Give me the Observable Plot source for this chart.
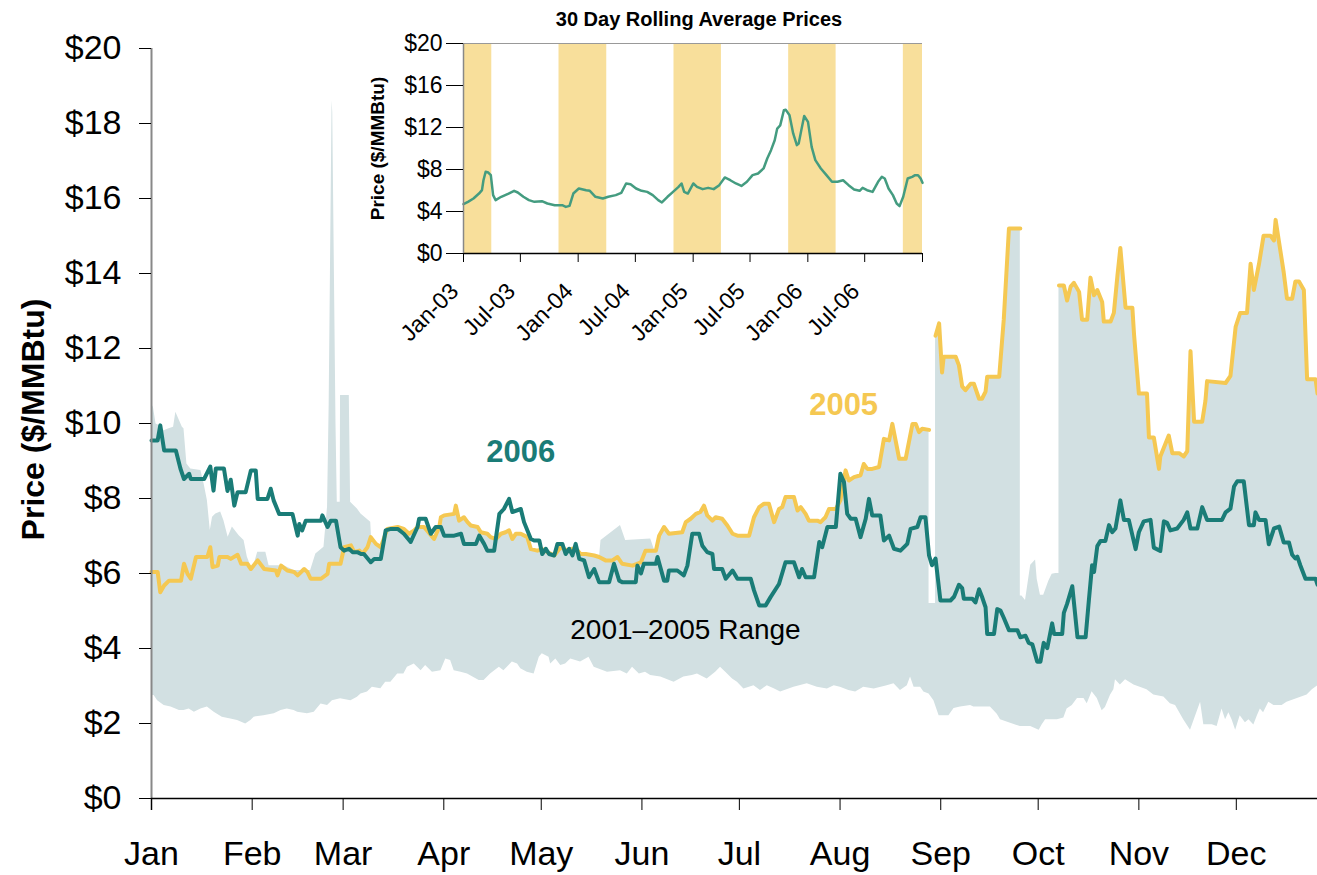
<!DOCTYPE html>
<html><head><meta charset="utf-8">
<script src="https://cdn.jsdelivr.net/npm/d3@7"></script>
<script src="https://cdn.jsdelivr.net/npm/@observablehq/plot@0.6"></script>
<style>
body{margin:0;background:#fff;}
#wrap{position:relative;width:1317px;height:875px;overflow:hidden;font-family:"Liberation Sans",Arial,sans-serif;}
#main{position:absolute;left:0;top:0;}
#inset{position:absolute;left:360px;top:0;}
</style></head><body>
<div id="wrap"><div id="main"></div><div id="inset"></div></div>
<script>
// ---------- main chart data (day of year, $/MMBtu) ----------
const monthLabels = ["Jan","Feb","Mar","Apr","May","Jun","Jul","Aug","Sep","Oct","Nov","Dec"];
const yTickValues = [0,2,4,6,8,10,12,14,16,18,20];

const days2006 = [0,1.9,2.7,3.9,7.5,8.9,10.0,11.6,12.1,16.2,18.1,19.1,19.8,22.3,23.4,24.4,25.5,26.5,29.0,30.6,32.1,32.7,35.7,36.7,37.6,39.3,43.4,45.0,45.5,46.4,47.5,52.2,52.6,54.2,55.2,56.8,58.2,59.3,60.8,61.9,63.4,64.5,65.4,67.5,68.6,70.6,72.1,73.7,75.8,77.7,79.8,81.9,82.4,84.4,86.0,87.5,89.1,90.1,93.2,95.3,96.2,99.9,100.9,102.4,103.4,105.5,107.1,108.5,110.1,111.1,113.7,114.7,116.8,117.8,119.4,120.3,121.4,122.4,124.0,125.0,126.5,127.5,128.6,129.6,130.6,131.7,133.2,134.7,136.3,137.8,140.9,142.4,144.0,144.9,149.1,149.6,150.7,151.6,155.3,155.8,157.8,158.8,159.3,161.9,163.9,165.0,166.5,168.6,169.6,171.1,172.7,173.2,175.7,176.8,178.9,180.4,184.5,185.5,187.1,189.1,190.6,193.2,195.2,197.8,199.4,200.3,201.4,204.0,205.6,206.5,208.1,210.7,212.1,213.2,214.2,215.3,216.8,218.3,219.9,220.9,221.9,224.4,225.5,227.1,228.6,230.6,232.7,233.7,235.8,236.8,238.3,239.4,240.3,241.4,242.9,246.0,247.1,248.6,249.6,250.1,252.7,253.7,254.8,255.7,256.8,257.3,259.4,260.4,261.4,262.4,264.0,266.6,267.5,269.1,270.1,271.2,272.7,273.7,274.7,275.8,277.3,277.9,280.4,280.9,281.9,283.5,285.1,287.6,288.6,289.6,290.2,291.2,292.2,293.7,294.8,295.8,296.8,298.3,299.4,300.9,303.0,304.0,305.5,307.6,308.6,310.6,311.7,312.7,313.7,315.8,317.8,318.9,319.9,322.0,323.5,325.0,329.6,330.7,332.2,333.3,334.3,336.3,337.9,339.4,339.9,341.0,343.0,344.0,345.6,347.2,348.6,350.2,351.2,352.2,352.8,353.7,355.3,358.4,359.0];
const price2006 = [9.55,9.55,9.95,9.28,9.28,8.8,8.52,8.66,8.52,8.52,8.85,8.21,8.8,8.8,8.2,8.5,7.81,8.17,8.17,8.75,8.75,7.99,7.99,8.26,7.95,7.59,7.59,7.01,7.32,7.15,7.41,7.41,7.55,7.24,7.41,7.41,6.70,6.61,6.66,6.57,6.57,6.52,6.52,6.30,6.39,6.39,7.15,7.19,7.19,7.06,6.84,7.24,7.46,7.46,7.06,7.24,7.24,7.01,7.01,7.06,6.79,6.79,7.01,6.79,6.61,6.61,7.59,7.72,7.99,7.64,7.72,7.37,6.92,6.88,6.88,6.52,6.66,6.52,6.48,6.79,6.79,6.52,6.66,6.48,6.79,6.39,6.35,5.90,6.12,5.77,5.77,6.26,5.81,5.77,5.77,6.21,6.0,6.26,6.26,6.44,5.81,5.81,6.08,6.08,5.95,6.21,7.06,7.06,6.74,6.57,6.52,6.12,6.12,5.86,6.08,5.86,5.86,5.55,5.15,5.15,5.37,5.72,6.30,6.30,5.90,6.12,5.90,5.90,6.84,6.70,7.24,7.24,8.66,8.44,7.59,7.46,7.46,6.97,7.46,7.99,7.55,7.55,6.88,7.01,6.66,6.61,6.79,7.19,7.24,7.50,7.50,6.48,6.22,6.40,5.28,5.28,5.38,5.70,5.61,5.33,5.33,5.23,5.58,5.38,5.10,4.39,4.39,5.05,5.01,4.82,4.49,4.49,4.30,4.34,4.15,4.11,3.65,3.65,4.15,4.01,4.67,4.39,4.39,4.95,5.19,5.66,4.30,4.30,5.28,6.22,6.04,6.73,6.87,6.87,7.29,7.10,7.20,7.95,7.43,7.43,6.65,7.10,7.39,7.43,6.69,6.60,7.39,7.35,7.15,7.20,7.43,7.63,7.20,7.20,7.77,7.43,7.43,7.63,7.73,8.32,8.46,8.46,7.29,7.29,7.63,7.43,7.43,6.78,7.20,7.25,6.83,6.83,6.50,6.40,6.45,6.22,5.86,5.86,5.70];

const days2005 = [0,1.9,2.7,3.9,5.4,9.1,10.0,11.1,12.1,13.7,17.2,18.1,18.8,20.4,20.9,23.4,24.4,26.5,27.6,29.5,30.6,32.7,34.7,38.3,38.8,39.9,41.8,43.9,45.0,47.0,48.0,49.0,52.2,54.2,54.7,58.2,59.3,61.4,62.4,64.0,64.9,66.5,67.5,69.1,70.6,72.6,75.8,77.7,79.3,80.9,81.9,83.9,87.0,88.6,89.1,90.1,93.2,93.7,94.7,96.2,97.3,98.3,100.4,101.4,103.4,104.4,106.0,107.6,109.0,110.1,111.1,112.2,113.7,115.7,116.8,118.8,120.3,121.9,124.0,126.0,128.0,129.6,131.2,132.1,133.7,136.3,137.8,139.8,141.9,143.5,144.9,148.1,150.7,152.1,155.3,156.3,157.8,159.3,163.4,164.5,166.0,167.6,169.0,170.1,171.1,172.7,173.7,175.7,177.3,178.9,180.4,184.0,185.5,187.1,188.6,190.1,191.7,193.2,194.2,195.2,197.8,198.9,199.9,201.4,202.4,205.0,206.0,207.5,208.6,210.7,212.1,213.7,214.7,216.3,218.3,219.3,220.4,221.9,224.0,225.5,227.1,228.1,230.2,232.2,234.3,235.3,236.3,237.3,239.4,240.4,241.4,242.5,243.4,243.9,247.6,248.6,249.6,250.6,252.2,253.2,254.8,255.7,256.8,257.3,261.0,262.4,264.0,267.5,273.4,279.4,280.9,281.9,283.0,284.0,285.6,286.5,288.1,289.1,290.2,291.2,292.7,293.2,295.3,296.3,297.4,298.3,299.9,302.0,302.5,304.0,306.5,307.1,308.6,310.2,310.6,313.2,314.3,316.4,317.8,318.9,319.9,321.0,323.5,324.5,325.0,330.7,332.2,333.8,335.2,337.3,338.4,339.4,341.0,342.4,344.5,345.6,346.1,348.6,349.6,351.2,352.2,353.3,354.8,355.8,358.4,359.0];
const price2005 = [6.04,6.04,5.5,5.68,5.81,5.81,6.26,5.99,5.86,6.44,6.44,6.70,6.17,6.21,6.44,6.44,6.39,6.50,6.26,6.26,6.12,6.35,6.12,6.08,5.95,6.21,6.08,6.04,5.95,6.12,6.04,5.86,5.86,5.99,6.26,6.26,6.70,6.75,6.57,6.61,6.52,6.70,6.97,6.79,6.70,7.19,7.24,7.19,7.06,7.15,7.24,7.24,6.92,7.24,7.50,7.55,7.59,7.81,7.41,7.50,7.37,7.28,7.24,7.10,7.06,6.97,6.92,7.06,7.10,7.15,6.92,7.06,7.06,6.97,6.65,6.61,6.65,6.57,6.48,6.70,6.61,6.66,6.61,6.52,6.52,6.48,6.44,6.35,6.35,6.44,6.26,6.21,6.30,6.61,6.61,7.01,7.24,7.06,7.10,7.37,7.46,7.59,7.64,7.81,7.55,7.41,7.50,7.46,7.28,7.06,7.01,7.01,7.50,7.77,7.86,7.86,7.37,7.72,7.77,8.04,8.04,7.68,7.77,7.59,7.41,7.41,7.37,7.50,7.72,7.72,7.95,8.75,8.48,8.57,8.62,8.92,8.79,8.79,8.84,9.59,9.55,9.99,9.06,9.06,9.99,9.99,9.77,9.86,9.83,NaN,12.34,12.67,11.36,11.78,11.78,11.55,10.99,10.89,11.06,11.06,10.66,10.66,10.85,11.25,11.25,12.77,15.20,15.20,NaN,13.68,13.68,13.28,13.65,13.75,13.51,12.77,12.77,13.89,13.42,13.56,13.24,12.72,12.72,12.95,13.94,14.68,13.09,13.09,12.39,10.80,10.80,9.63,9.63,8.79,9.12,9.68,9.21,9.21,9.12,9.26,11.93,10.05,10.05,10.61,11.13,11.08,11.27,12.58,12.95,12.95,14.26,13.56,14.26,15.01,15.01,14.88,15.43,14.03,13.33,13.33,13.79,13.79,13.56,11.18,11.18,10.80];

// 2001-2005 range: highs of the other years where they rise above 2005 (NaN = not shown)
const rangeHighDays = [0,0.6,1.4,2.4,3.9,5.4,6.8,7.5,8.6,9.5,10.0,10.9,12.1,15.2,16.2,17.2,18.1,18.8,19.8,21.3,22.3,23.6,24.9,27.0,28.5,29.5,31.1,32.7,35.2,36.2,40.8,43.9,49.0,50.6,53.1,54.2,54.7,55.6,55.8,56.8,57.2,58.1,58.2,60.9,61.3,63.4,64.5,67.5,68.0,68.7,69.2,137.8,138.4,144.4,146.0,153.7,155.3,155.8,156.3,238.9,241.7,242.2,267.2,268.0,269.1,270.7,272.2,272.7,273.7,274.7,276.3,277.3,278.4,279.8];
const rangeHighPrice = [10.52,10.43,9.99,9.95,9.81,9.86,9.90,10.30,10.08,9.90,9.86,8.92,8.79,8.75,8.39,7.95,7.15,7.50,7.59,7.64,7.41,6.97,7.24,7.01,6.88,6.44,6.08,6.57,6.57,6.21,6.21,6.08,6.08,6.52,6.70,7.77,10.5,18.6,18.3,10.0,7.9,7.9,10.75,10.75,7.9,7.72,7.59,7.37,6.52,6.4,NaN,6.3,6.88,7.28,6.88,6.92,6.52,6.4,NaN,5.2,5.2,NaN,5.4,5.4,5.28,6.22,6.36,5.85,5.42,5.42,5.80,5.98,6.0,6.0];
const rangeLowDays = [0,0.8,1.9,3.9,6.0,8.6,10.0,11.6,13.2,15.2,17.2,19.3,21.8,24.4,26.5,29.0,30.6,31.6,34.6,37.8,39.9,41.8,43.9,45.0,48.0,50.1,52.2,54.2,55.7,58.2,61.4,63.4,64.5,66.5,68.0,70.6,72.1,73.7,75.8,77.7,78.8,80.9,83.0,84.4,86.5,89.1,90.6,92.1,93.2,95.3,97.3,100.9,102.4,104.4,107.1,108.5,111.1,112.7,113.7,115.7,117.8,119.4,120.3,122.4,122.9,124.5,126.0,127.5,129.1,130.6,132.1,134.7,136.3,140.4,144.4,146.5,148.1,150.2,152.1,153.7,156.8,160.9,163.9,166.5,168.1,171.1,173.7,175.2,176.8,178.9,180.4,182.4,185.5,187.5,189.6,191.7,193.7,197.8,201.9,205.0,208.1,210.2,212.1,214.7,216.8,219.3,222.5,226.5,228.6,230.6,232.7,233.7,234.8,236.8,237.8,239.4,240.9,242.5,245.5,247.1,249.1,252.2,253.2,258.3,260.4,261.4,267.5,270.7,273.3,274.2,275.3,278.9,280.9,281.9,283.5,285.1,287.1,288.1,289.6,291.2,292.7,293.7,295.3,296.3,296.8,298.3,299.9,302.5,306.5,308.6,311.7,313.7,315.3,317.8,319.9,321.5,323.0,324.0,326.6,328.1,329.6,330.7,331.7,332.7,333.8,335.2,336.8,337.9,339.4,340.5,341.4,342.4,344.0,345.6,348.1,349.6,352.8,355.8,357.4,359.0];
const rangeLowPrice = [2.75,2.75,2.61,2.48,2.44,2.35,2.35,2.39,2.30,2.39,2.44,2.30,2.17,2.12,2.08,1.99,2.08,2.17,2.21,2.26,2.35,2.39,2.35,2.30,2.26,2.30,2.52,2.48,2.61,2.66,2.61,2.70,2.79,2.84,2.97,2.93,3.10,3.10,3.32,3.32,3.50,3.59,3.41,3.55,3.37,3.41,3.72,3.68,3.41,3.37,3.32,3.15,3.15,3.32,3.50,3.41,3.64,3.59,3.46,3.37,3.32,3.77,3.86,3.77,3.59,3.72,3.55,3.59,3.72,3.68,3.64,3.77,3.50,3.37,3.41,3.32,3.50,3.32,3.37,3.28,3.24,3.10,3.24,3.28,3.32,3.19,3.37,3.50,3.37,3.19,3.10,2.92,3.01,2.88,3.01,2.93,2.84,2.97,3.06,2.97,2.92,3.01,2.97,2.88,2.84,2.97,2.92,3.01,3.06,2.88,3.01,3.24,2.97,2.97,2.84,2.79,2.61,2.21,2.21,2.40,2.44,2.48,2.44,2.44,2.25,2.10,1.92,1.92,1.82,1.96,2.10,2.10,2.15,2.39,2.48,2.67,2.67,2.53,2.85,2.67,2.34,2.43,2.76,2.90,3.17,3.03,3.17,3.03,2.90,2.76,2.71,2.53,2.48,2.10,1.82,2.21,2.57,1.97,1.97,1.92,2.39,2.10,2.29,2.10,1.82,2.21,2.02,2.10,1.96,2.21,2.39,2.29,2.57,2.48,2.48,2.57,2.67,2.76,2.90,3.00];

// ---------- inset data (decimal year, 30-day rolling average $/MMBtu) ----------
const insetYears = [2003.000,2003.039,2003.087,2003.135,2003.161,2003.174,2003.193,2003.216,2003.238,2003.258,2003.280,2003.329,2003.393,2003.441,2003.473,2003.522,2003.570,2003.618,2003.683,2003.731,2003.795,2003.860,2003.892,2003.924,2003.957,2004.005,2004.069,2004.101,2004.150,2004.214,2004.262,2004.327,2004.375,2004.417,2004.456,2004.504,2004.552,2004.601,2004.649,2004.697,2004.729,2004.778,2004.826,2004.874,2004.900,2004.923,2004.955,2005.003,2005.035,2005.084,2005.132,2005.180,2005.229,2005.277,2005.325,2005.374,2005.422,2005.470,2005.519,2005.567,2005.615,2005.647,2005.680,2005.712,2005.734,2005.760,2005.792,2005.808,2005.841,2005.873,2005.905,2005.921,2005.944,2005.969,2006.002,2006.034,2006.066,2006.114,2006.163,2006.211,2006.259,2006.308,2006.356,2006.404,2006.452,2006.478,2006.517,2006.565,2006.613,2006.646,2006.671,2006.704,2006.742,2006.775,2006.800,2006.832,2006.871,2006.910,2006.936,2006.961,2006.984,2007.000];
const insetPrice = [4.70,4.92,5.24,5.71,6.03,6.98,7.78,7.71,7.46,5.56,5.08,5.40,5.71,5.97,5.81,5.40,5.08,4.92,4.98,4.76,4.60,4.60,4.44,4.54,5.71,6.19,6.03,5.97,5.40,5.24,5.40,5.56,5.78,6.67,6.60,6.19,5.97,5.87,5.56,5.08,4.86,5.40,5.87,6.35,6.67,5.87,5.71,6.67,6.35,6.13,6.25,6.13,6.51,7.24,6.98,6.67,6.44,6.83,7.46,7.62,8.10,9.05,9.84,10.79,11.90,12.20,13.65,13.70,13.17,11.43,10.32,10.48,11.75,13.10,12.54,10.16,8.89,8.10,7.46,6.83,6.83,6.98,6.51,6.10,5.97,6.25,6.03,5.87,6.83,7.30,7.14,6.19,5.56,4.76,4.51,5.40,7.14,7.30,7.46,7.46,7.14,6.73];
const winterStart = ["2003-01-01","2003-11-01","2004-11-01","2005-11-01","2006-11-01"];
const winterEnd   = ["2003-04-01","2004-04-01","2005-04-01","2006-04-01","2007-01-01"];
const insetTickDates = ["2003-01-01","2003-07-01","2004-01-01","2004-07-01","2005-01-01","2005-07-01","2006-01-01","2006-07-01","2007-01-01"];
const insetTickLabels = ["Jan-03","Jul-03","Jan-04","Jul-04","Jan-05","Jul-05","Jan-06","Jul-06",""];
const insetYTicks = [0,4,8,12,16,20];

// ---------- build tables ----------
const DAY = 86400000;
const base = Date.UTC(2006,0,1);
const dayDate = d => new Date(base + d*DAY);
const rows = (ds, ps) => ds.map((d,i) => ({date: dayDate(d), price: ps[i]}));
const rows2006 = rows(days2006, price2006);
const rows2005 = rows(days2005, price2005);
const rowsHigh = rows(rangeHighDays, rangeHighPrice);
const rowsLow = rows(rangeLowDays, rangeLowPrice);
const monthDates = monthLabels.map((m,i) => new Date(Date.UTC(2006,i,1)));

const TEAL = "#1a7c77", YELLOW = "#f5c852", RANGE = "#d2e0e2";
const FONT = "'Liberation Sans', Arial, Helvetica, sans-serif";

const main = Plot.plot({
  width: 1317, height: 875,
  marginTop: 48, marginBottom: 77, marginLeft: 151, marginRight: 0,
  style: {fontFamily: FONT, fontSize: "34px", color: "#000", background: "transparent", overflow: "visible"},
  x: {type: "utc", domain: [new Date(base), dayDate(359)]},
  y: {domain: [0, 20]},
  marks: [
    Plot.areaY(rowsHigh, {x: "date", y1: 0, y2: "price", fill: RANGE}),
    Plot.areaY(rows2005, {x: "date", y1: 0, y2: "price", fill: RANGE}),
    Plot.areaY(rowsLow, {x: "date", y1: 0, y2: "price", fill: "#fff"}),
    Plot.line(rows2005, {x: "date", y: "price", stroke: YELLOW, strokeWidth: 4}),
    Plot.line(rows2006, {x: "date", y: "price", stroke: TEAL, strokeWidth: 4}),
    Plot.text(["2006"], {x: dayDate(113.7), y: 9.23, text: d => d, fill: TEAL, fontWeight: "bold", fontSize: 31}),
    Plot.text(["2005"], {x: dayDate(213.1), y: 10.48, text: d => d, fill: YELLOW, fontWeight: "bold", fontSize: 31}),
    Plot.text(["2001\u20132005 Range"], {x: dayDate(164.4), y: 4.48, text: d => d, fill: "#000", fontSize: 28}),
    Plot.text(["Price ($/MMBtu)"], {frameAnchor: "left", dx: -118, dy: -4, rotate: -90, textAnchor: "middle", lineAnchor: "middle", text: d => d, fontWeight: "bold", fontSize: 32, fill: "#000"}),
    Plot.ruleX([new Date(base)], {stroke: "#888", strokeWidth: 2, insetBottom: -12}),
    Plot.ruleY([0], {stroke: "#000", strokeWidth: 1.5}),
    Plot.axisY({ticks: yTickValues, tickFormat: d => "$" + d, tickSize: 12, tickPadding: 18, fontSize: 34, label: null}),
    Plot.axisX({ticks: monthDates, tickFormat: d => monthLabels[d.getUTCMonth()], tickSize: 12, tickPadding: 30, fontSize: 34, label: null})
  ]
});
document.getElementById("main").appendChild(main);

// ---------- inset ----------
const y0 = Date.UTC(2003,0,1);
const insetRows = insetYears.map((t,i) => ({date: new Date(y0 + (t-2003)*365.25*DAY), price: insetPrice[i]}));
const bands = winterStart.map((s,i) => ({x1: new Date(s), x2: new Date(winterEnd[i])}));
const tickDates = insetTickDates.map(s => new Date(s));

const inset = Plot.plot({
  width: 580, height: 350,
  marginTop: 43, marginBottom: 97, marginLeft: 103, marginRight: 18,
  style: {fontFamily: FONT, fontSize: "23px", color: "#000", background: "transparent", overflow: "visible"},
  x: {type: "utc", domain: [new Date(y0), new Date(Date.UTC(2007,0,1))]},
  y: {domain: [0, 20]},
  marks: [
    Plot.rect(bands, {x1: "x1", x2: "x2", y1: 0, y2: 20, fill: "#f8df9b"}),
    Plot.line(insetRows, {x: "date", y: "price", stroke: "#449c80", strokeWidth: 2.5}),
    Plot.ruleY([20], {stroke: "#999", strokeWidth: 1}),
    Plot.ruleY([0], {stroke: "#000", strokeWidth: 1.5}),
    Plot.ruleX([new Date(y0)], {stroke: "#888", strokeWidth: 1.5}),
    Plot.text(["30 Day Rolling Average Prices"], {frameAnchor: "top", dy: -24, dx: 6, lineAnchor: "middle", text: d => d, fontWeight: "bold", fontSize: 20, fill: "#000"}),
    Plot.text(["Price ($/MMBtu)"], {frameAnchor: "left", dx: -86, rotate: -90, textAnchor: "middle", lineAnchor: "middle", text: d => d, fontWeight: "bold", fontSize: 19, fill: "#000"}),
    Plot.axisY({ticks: insetYTicks, tickFormat: d => "$" + d, tickSize: 17, tickPadding: 4, fontSize: 23, label: null}),
    Plot.axisX({ticks: tickDates, tickFormat: () => "", tickSize: 9, label: null}),
    Plot.axisX({ticks: tickDates, tickFormat: (d,i) => insetTickLabels[i], tickRotate: -45, tickSize: 0, tickPadding: 15, dx: -9, dy: 19, fontSize: 23, label: null})
  ]
});
document.getElementById("inset").appendChild(inset);
</script>
</body></html>
